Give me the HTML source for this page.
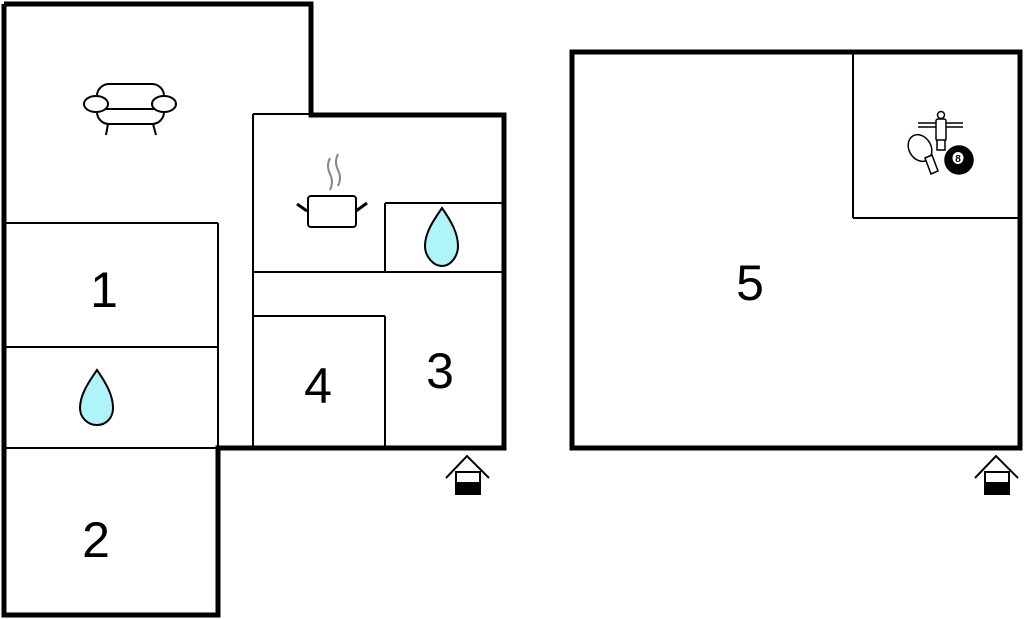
<!DOCTYPE html>
<html><head><style>html,body{margin:0;padding:0;background:#fff;}svg{display:block}</style></head><body>
<svg width="1024" height="619" viewBox="0 0 1024 619" xmlns="http://www.w3.org/2000/svg" font-family="Liberation Sans, Arial, sans-serif">
<g fill="none" stroke="#000" stroke-width="2">
<line x1="4" y1="223" x2="218" y2="223"/><line x1="218" y1="223" x2="218" y2="448"/>
<line x1="4" y1="347" x2="218" y2="347"/><line x1="4" y1="448" x2="218" y2="448"/>
<line x1="253" y1="114" x2="311" y2="114"/><line x1="253" y1="114" x2="253" y2="448"/>
<line x1="253" y1="272" x2="505" y2="272"/>
<line x1="385" y1="203" x2="505" y2="203"/><line x1="385" y1="203" x2="385" y2="272"/>
<line x1="253" y1="316" x2="385" y2="316"/><line x1="385" y1="316" x2="385" y2="448"/>
<line x1="853" y1="51" x2="853" y2="218"/><line x1="853" y1="218" x2="1021" y2="218"/>
</g>
<g fill="none" stroke="#000" stroke-width="5">
<polyline points="4,4 311,4 311,115 504,115 504,448 218,448 218,615 4,615 4,4"/>
<rect x="572" y="52" width="448" height="396"/>
</g>
<g font-size="50" text-anchor="middle" fill="#000">
<text x="104" y="307">1</text><text x="96" y="557">2</text>
<text x="440" y="388">3</text><text x="318" y="403">4</text><text x="750" y="300">5</text>
</g>
<g fill="#aef4f8" stroke="#000" stroke-width="2">
<path d="M97,370 C88,383 80,395 80,408 C80,418 88,425 97,425 C106,425 113,418 113,408 C113,395 106,383 97,370Z"/>
<path d="M442,208 C433,221 425,233 425,246 C425,256 433,266 442,266 C451,266 458,256 458,246 C458,233 451,221 442,208Z"/>
</g>
<!-- sofa -->
<g fill="#fff" stroke="#000" stroke-width="2">
<line x1="108" y1="124" x2="106" y2="135"/><line x1="153" y1="124" x2="156" y2="135"/>
<rect x="97" y="84" width="67" height="40" rx="12"/>
<line x1="106" y1="109" x2="155" y2="109"/>
<ellipse cx="96" cy="104" rx="12" ry="8"/><ellipse cx="164" cy="104" rx="12" ry="8"/>
</g>
<!-- pot -->
<g stroke="#000" stroke-width="2" fill="#fff">
<line x1="307" y1="211" x2="297" y2="204" stroke-width="3"/><line x1="356" y1="211" x2="367" y2="203" stroke-width="3"/>
<rect x="308" y="196" width="48" height="31" rx="3"/>
</g>
<g stroke="#888" stroke-width="2" fill="none">
<path d="M330,158 q-4,8 0,16 q4,8 0,16"/><path d="M338,154 q-4,8 0,16 q4,8 0,16"/>
</g>
<!-- games -->
<g stroke="#000" stroke-width="1.5" fill="#fff">
<line x1="918" y1="123" x2="963" y2="123"/><line x1="918" y1="127" x2="963" y2="127"/>
<circle cx="941" cy="115" r="3.5"/><rect x="936" y="119" width="10" height="22" rx="2"/>
<rect x="937" y="140" width="8" height="10"/>
<ellipse cx="920" cy="148" rx="11" ry="14" transform="rotate(-30 920 148)"/>
<polygon points="925,158 932,155 938,171 931,174"/>
<circle cx="959" cy="160" r="14" fill="#000"/>
</g>
<ellipse cx="958" cy="158" rx="5.5" ry="6" fill="#fff"/>
<text x="958" y="162" font-size="10" font-weight="bold" text-anchor="middle">8</text>
<g id="e" stroke="#000" stroke-width="2" fill="#fff">
<polyline points="446,478 467,456 489,478" fill="none"/>
<rect x="456" y="472" width="24" height="22"/>
<rect x="456" y="483" width="24" height="11" fill="#000"/>
</g>
<use href="#e" transform="translate(529,0)"/>
</svg>
</body></html>
